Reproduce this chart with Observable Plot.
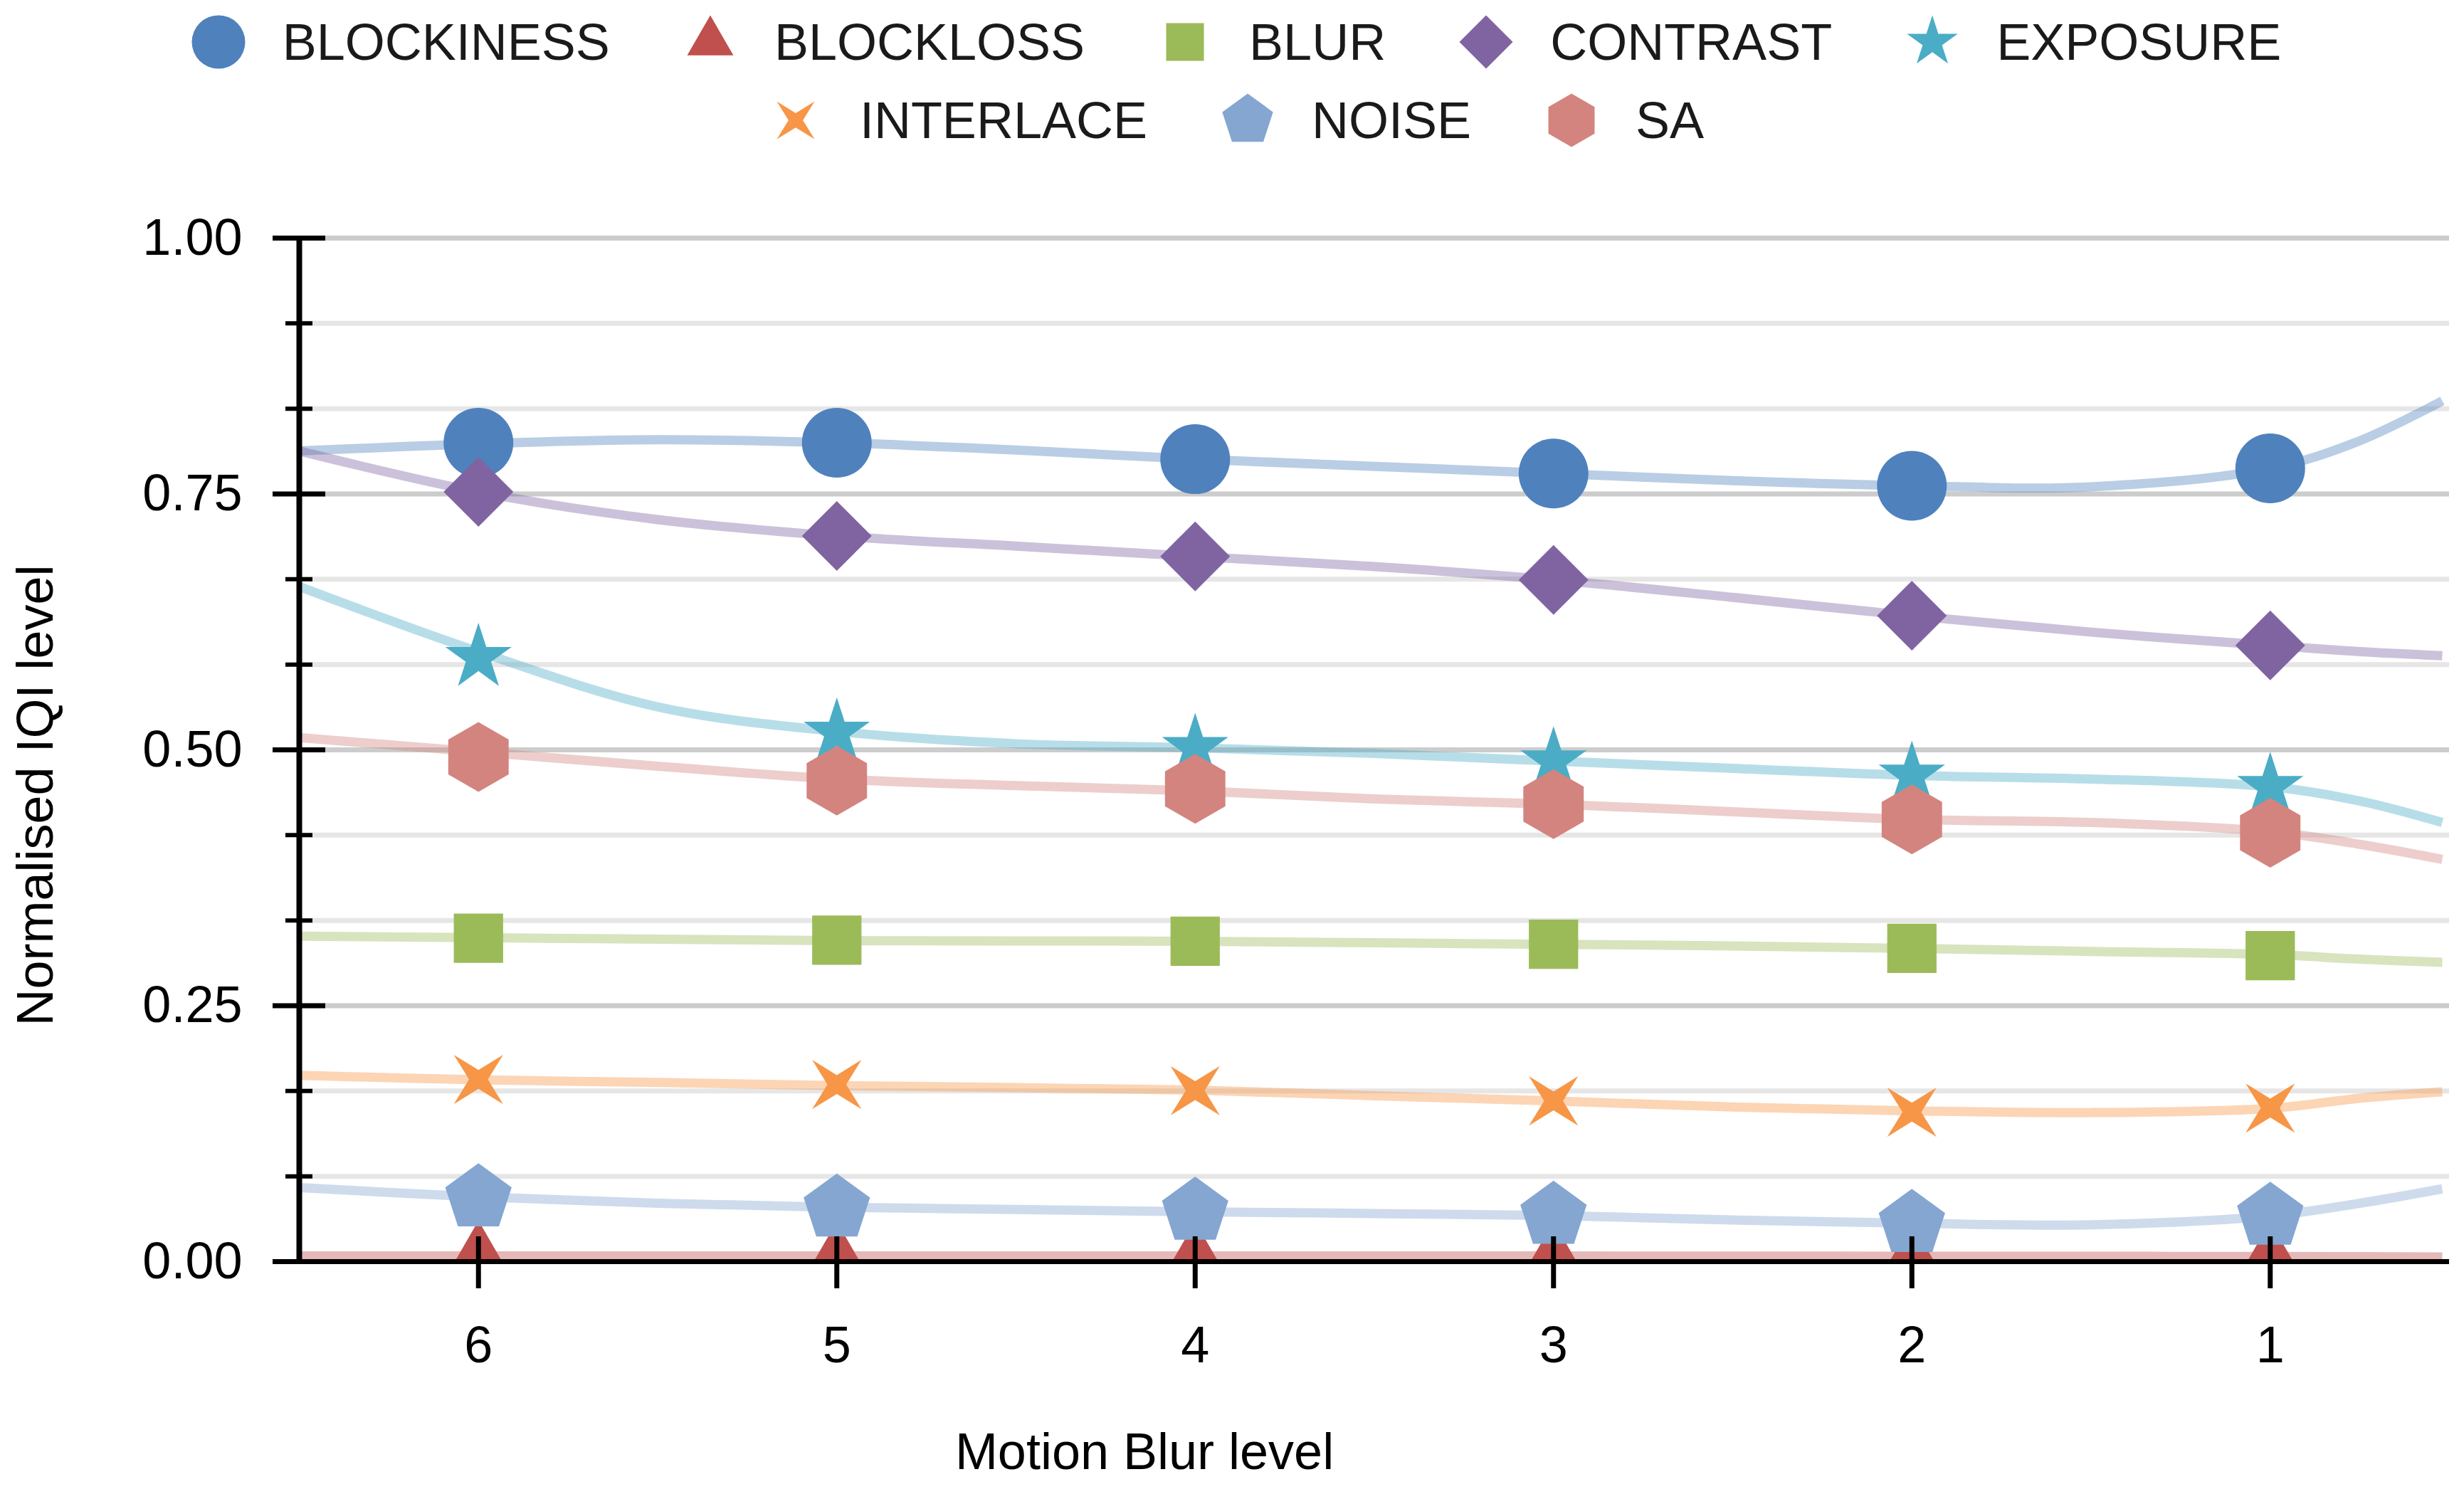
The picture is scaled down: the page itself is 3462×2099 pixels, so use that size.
<!DOCTYPE html>
<html><head><meta charset="utf-8">
<script src="https://cdn.jsdelivr.net/npm/d3@7"></script>
<script src="https://cdn.jsdelivr.net/npm/@observablehq/plot@0.6"></script>
<style>
html,body{margin:0;padding:0;background:#fff;}
body{width:3462px;height:2099px;overflow:hidden;font-family:"Liberation Sans",Arial,sans-serif;}
#legend{height:230px;box-sizing:border-box;padding-top:4px;}
.row{display:flex;justify-content:center;column-gap:91px;height:110px;}
.item{display:flex;align-items:center;height:110px;}
.item svg{display:block;}
.item span{margin-left:40px;font-size:72px;line-height:110px;color:#1a1a1a;white-space:nowrap;}
</style></head><body>
<div id="legend"></div>
<div id="chart"></div>
<script>
// ---------- data ----------
const levels = [6, 5, 4, 3, 2, 1];
const seriesNames = ["BLOCKINESS","BLOCKLOSS","BLUR","CONTRAST","EXPOSURE","INTERLACE","NOISE","SA"];
const seriesColors = ["#4f81bd","#c0504d","#9bbb59","#8064a2","#4bacc6","#f79646","#84a6d1","#d3847f"];
const legendRows = [["BLOCKINESS","BLOCKLOSS","BLUR","CONTRAST","EXPOSURE"],["INTERLACE","NOISE","SA"]];

// measured points (level 6 .. 1)
const blockiness = [0.800, 0.800, 0.784, 0.770, 0.758, 0.775];
const blockloss  = [0.006, 0.005, 0.005, 0.005, 0.004, 0.005];
const blur       = [0.316, 0.314, 0.313, 0.310, 0.306, 0.299];
const contrast   = [0.752, 0.709, 0.689, 0.666, 0.631, 0.602];
const exposure   = [0.590, 0.517, 0.502, 0.489, 0.475, 0.464];
const interlace  = [0.178, 0.173, 0.167, 0.157, 0.146, 0.150];
const noise      = [0.062, 0.052, 0.049, 0.045, 0.037, 0.044];
const sa         = [0.493, 0.470, 0.462, 0.447, 0.432, 0.419];

// fitted trend curves
const fitX           = [6.5, 6, 5.5, 5, 4.5, 4, 3.5, 3, 2.5, 2, 1.5, 1, 0.75, 0.52];
const fitBlockiness  = [0.792, 0.799, 0.803, 0.800, 0.793, 0.784, 0.777, 0.770, 0.763, 0.758, 0.757, 0.775, 0.802, 0.841];
const fitBlockloss   = [0.0055, 0.0055, 0.0055, 0.0055, 0.0055, 0.0055, 0.0055, 0.0055, 0.0054, 0.0053, 0.0052, 0.005, 0.0048, 0.0045];
const fitBlur        = [0.318, 0.3165, 0.315, 0.3137, 0.3133, 0.313, 0.3115, 0.310, 0.3085, 0.306, 0.303, 0.300, 0.2955, 0.2925];
const fitContrast    = [0.792, 0.752, 0.725, 0.709, 0.699, 0.689, 0.679, 0.666, 0.649, 0.631, 0.615, 0.602, 0.596, 0.592];
const fitExposure    = [0.6595, 0.596, 0.542, 0.518, 0.506, 0.502, 0.4965, 0.489, 0.482, 0.475, 0.4715, 0.464, 0.450, 0.429];
const fitInterlace   = [0.182, 0.1776, 0.175, 0.172, 0.170, 0.1676, 0.162, 0.157, 0.151, 0.1473, 0.1456, 0.1497, 0.1596, 0.1658];
const fitNoise       = [0.0723, 0.0633, 0.057, 0.0531, 0.051, 0.0487, 0.047, 0.045, 0.0407, 0.0375, 0.036, 0.0447, 0.057, 0.0711];
const fitSa          = [0.512, 0.498, 0.484, 0.4715, 0.465, 0.460, 0.452, 0.447, 0.4395, 0.432, 0.429, 0.420, 0.4077, 0.393];

const majorTicks = [0, 0.25, 0.5, 0.75, 1];
const minorTicks = [1/12, 2/12, 4/12, 5/12, 7/12, 8/12, 10/12, 11/12];
const xLabel = "Motion Blur level";
const yLabel = "Normalised IQI level";

// ---------- symbols ----------
const symCircle = {draw(ctx, size){const r=Math.sqrt(size/Math.PI); ctx.moveTo(r,0); ctx.arc(0,0,r,0,2*Math.PI); ctx.closePath();}};
function regular(n, startDeg, innerRatio){
  return {draw(ctx, size){
    const r = Math.sqrt(size/Math.PI);
    const pts = innerRatio ? 2*n : n;
    for (let i=0;i<pts;i++){
      const a = (startDeg + i*360/pts)*Math.PI/180;
      const rr = innerRatio && (i%2) ? r*innerRatio : r;
      const x = rr*Math.cos(a), y = rr*Math.sin(a);
      if (i) ctx.lineTo(x,y); else ctx.moveTo(x,y);
    }
    ctx.closePath();
  }};
}
const symbols = [symCircle, regular(3,-90), regular(4,-45), regular(4,-90), regular(5,-90,0.382), regular(4,-45,0.27), regular(5,-90), regular(6,-90)];

const pointValues = [blockiness, blockloss, blur, contrast, exposure, interlace, noise, sa];
const fitValues = [fitBlockiness, fitBlockloss, fitBlur, fitContrast, fitExposure, fitInterlace, fitNoise, fitSa];

const series = seriesNames.map((name, i) => ({
  name, color: seriesColors[i], symbol: symbols[i],
  points: levels.map((x, j) => ({x, y: pointValues[i][j]})),
  fit: fitX.map((x, j) => ({x, y: fitValues[i][j]}))
}));

// ---------- legend ----------
const legend = d3.select("#legend");
const legendR = 37.5;
for (const row of legendRows) {
  const rdiv = legend.append("div").attr("class","row");
  for (const name of row) {
    const s = series.find(d => d.name === name);
    const it = rdiv.append("div").attr("class","item");
    const p = d3.path();
    s.symbol.draw(p, Math.PI*legendR*legendR);
    const svg = it.append("svg").attr("width",100).attr("height",110);
    svg.append("path").attr("transform","translate(50,55)").attr("d", p.toString()).attr("fill", s.color);
    it.append("span").text(name);
  }
}

// ---------- chart ----------
const W = 3462, H = 1869, mL = 420, mR = 21, mT = 104, mB = 327;
const frameW = W - mL - mR;
const frameH = H - mT - mB;

const chart = Plot.plot({
  width: W, height: H,
  marginLeft: mL, marginRight: mR, marginTop: mT, marginBottom: mB,
  style: {fontFamily: "Liberation Sans, Arial, sans-serif", fontSize: "72px", color: "black", background: "white"},
  x: {domain: [6.5, 0.5]},
  y: {domain: [0, 1]},
  marks: [
    Plot.ruleY(minorTicks, {stroke: "#e6e6e6", strokeWidth: 7}),
    Plot.ruleY(majorTicks.filter(d => d > 0), {stroke: "#cccccc", strokeWidth: 7}),
    ...series.map(s => Plot.line(s.fit, {x: "x", y: "y", stroke: s.color, strokeOpacity: 0.4, strokeWidth: 13, strokeLinecap: "butt", curve: "catmull-rom"})),
    ...series.map(s => Plot.dot(s.points, {x: "x", y: "y", symbol: s.symbol, r: 49, fill: s.color, stroke: "none", clip: true})),
    Plot.ruleX([6.5], {y1: 0, y2: 1, stroke: "black", strokeWidth: 8}),
    Plot.ruleY([0], {x1: 6.5, x2: 0.5, stroke: "black", strokeWidth: 7}),
    Plot.ruleY(majorTicks, {stroke: "black", strokeWidth: 7, insetLeft: -37, insetRight: frameW - 37}),
    Plot.ruleY(minorTicks, {stroke: "black", strokeWidth: 6, insetLeft: -19, insetRight: frameW - 19}),
    Plot.ruleX(levels, {stroke: "black", strokeWidth: 7, insetTop: frameH - 35, insetBottom: -38}),
    Plot.axisY({ticks: majorTicks, tickSize: 0, tickPadding: 80, tickFormat: d3.format(".2f"), fontSize: 72, label: null}),
    Plot.axisX({ticks: levels, tickSize: 0, tickPadding: 90, tickFormat: d => String(d), fontSize: 72, label: null}),
    Plot.text([xLabel], {frameAnchor: "bottom", textAnchor: "middle", lineAnchor: "bottom", dx: -323, dy: 291, fontSize: 72, fill: "black"}),
    Plot.text([yLabel], {frameAnchor: "left", textAnchor: "middle", lineAnchor: "bottom", rotate: -90, dx: -347, dy: 64, fontSize: 72, fill: "black"})
  ]
});
document.getElementById("chart").appendChild(chart);
</script>
</body></html>
